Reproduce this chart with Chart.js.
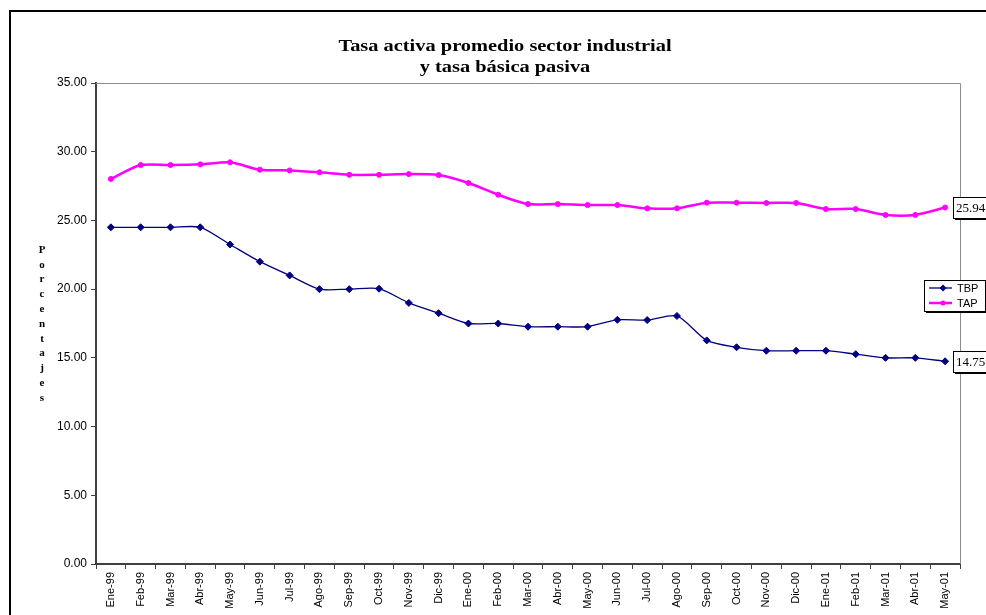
<!DOCTYPE html>
<html>
<head>
<meta charset="utf-8">
<script src="https://cdn.jsdelivr.net/npm/chart.js@4/dist/chart.umd.min.js"></script>
<style>
  html, body { margin: 0; padding: 0; background: #fff; }
  #wrap { width: 986px; height: 615px; }
</style>
</head>
<body>
<div id="wrap"><canvas id="c" width="986" height="615"></canvas></div>
<script>
// Monthly periods, Jan 1999 – May 2001
const categories = [
  'Ene-99','Feb-99','Mar-99','Abr-99','May-99','Jun-99','Jul-99','Ago-99','Sep-99','Oct-99','Nov-99','Dic-99',
  'Ene-00','Feb-00','Mar-00','Abr-00','May-00','Jun-00','Jul-00','Ago-00','Sep-00','Oct-00','Nov-00','Dic-00',
  'Ene-01','Feb-01','Mar-01','Abr-01','May-01'
];

// Tasa básica pasiva (%)
const tbp = [24.5, 24.5, 24.5, 24.5, 23.25, 22.0, 21.0, 20.0, 20.0, 20.03, 19.0, 18.25,
             17.5, 17.5, 17.27, 17.27, 17.27, 17.77, 17.75, 18.05, 16.27, 15.77, 15.52, 15.52,
             15.52, 15.27, 15.0, 15.0, 14.75];

// Tasa activa promedio sector industrial (%)
const tap = [28.02, 29.03, 29.03, 29.08, 29.23, 28.69, 28.64, 28.5, 28.32, 28.32, 28.37, 28.3,
             27.72, 26.87, 26.19, 26.19, 26.12, 26.12, 25.88, 25.88, 26.29, 26.29, 26.27, 26.27,
             25.83, 25.83, 25.4, 25.4, 25.94];

const yTicks = [0, 5, 10, 15, 20, 25, 30, 35];

const titleLines = ['Tasa activa promedio sector industrial', 'y tasa básica pasiva'];
const yTitle = 'Porcentajes';

const SANS = '"Liberation Sans", Arial, sans-serif';
const SERIF = '"Liberation Serif", "Times New Roman", serif';

const decorations = {
  id: 'decorations',
  beforeDatasetsDraw(chart) {
    const { ctx, chartArea: a } = chart;
    ctx.save();
    // plot area frame (top and right sides)
    ctx.strokeStyle = '#8c8c8c';
    ctx.lineWidth = 1;
    ctx.beginPath();
    ctx.moveTo(a.left, a.top + 0.5);
    ctx.lineTo(a.right + 0.5, a.top + 0.5);
    ctx.lineTo(a.right + 0.5, a.bottom);
    ctx.stroke();
    ctx.restore();
  },
  afterDraw(chart) {
    const { ctx } = chart;
    ctx.save();

    // outer frame
    ctx.strokeStyle = '#000';
    ctx.lineWidth = 2;
    ctx.beginPath();
    ctx.moveTo(10, 620);
    ctx.lineTo(10, 11);
    ctx.lineTo(1000, 11);
    ctx.stroke();

    // title (slightly widened serif, as in the original sheet)
    ctx.fillStyle = '#000';
    ctx.font = 'bold 17px ' + SERIF;
    ctx.textAlign = 'center';
    ctx.textBaseline = 'alphabetic';
    ctx.save();
    ctx.translate(505, 0);
    ctx.scale(1.2, 1);
    ctx.fillText(titleLines[0], 0, 51);
    ctx.fillText(titleLines[1], 0, 72);
    ctx.restore();

    // vertical stacked axis title
    ctx.font = 'bold 11px ' + SERIF;
    ctx.textBaseline = 'middle';
    const letters = yTitle.split('');
    const step = 14.8;
    const startY = 250;
    letters.forEach((ch, i) => ctx.fillText(ch, 42, startY + i * step));

    // value boxes at last point of each series
    const boxLabel = (dsIndex) => {
      const meta = chart.getDatasetMeta(dsIndex);
      const ds = chart.data.datasets[dsIndex];
      const last = ds.data.length - 1;
      const pt = meta.data[last];
      const txt = ds.data[last].toFixed(2);
      ctx.font = '13px ' + SERIF;
      const w = ctx.measureText(txt).width + 6;
      const h = 21;
      const x = 953, y = Math.round(pt.y - h / 2);
      ctx.fillStyle = '#000';
      ctx.fillRect(x + 2, y + 2, w, h);
      ctx.fillStyle = '#fff';
      ctx.fillRect(x, y, w, h);
      ctx.strokeStyle = '#000';
      ctx.lineWidth = 1;
      ctx.strokeRect(x + 0.5, y + 0.5, w, h);
      ctx.fillStyle = '#000';
      ctx.textAlign = 'left';
      ctx.textBaseline = 'middle';
      ctx.fillText(txt, x + 3, y + h / 2 + 1);
    };
    boxLabel(1);
    boxLabel(0);

    // legend
    const lx = 924, ly = 280, lw = 61, lh = 31;
    ctx.fillStyle = '#000';
    ctx.fillRect(lx + 2, ly + 2, lw, lh);
    ctx.fillStyle = '#fff';
    ctx.fillRect(lx, ly, lw, lh);
    ctx.strokeStyle = '#000';
    ctx.lineWidth = 1;
    ctx.strokeRect(lx + 0.5, ly + 0.5, lw, lh);
    chart.data.datasets.forEach((ds, i) => {
      const cy = ly + 8 + i * 15;
      ctx.strokeStyle = ds.borderColor;
      ctx.lineWidth = ds.borderWidth;
      ctx.beginPath();
      ctx.moveTo(lx + 5, cy);
      ctx.lineTo(lx + 28, cy);
      ctx.stroke();
      ctx.fillStyle = ds.pointBackgroundColor;
      ctx.beginPath();
      if (ds.pointStyle === 'rectRot') {
        const r = ds.pointRadius;
        ctx.moveTo(lx + 19, cy - r);
        ctx.lineTo(lx + 19 + r, cy);
        ctx.lineTo(lx + 19, cy + r);
        ctx.lineTo(lx + 19 - r, cy);
        ctx.closePath();
      } else {
        ctx.arc(lx + 19, cy, ds.pointRadius, 0, Math.PI * 2);
      }
      ctx.fill();
      ctx.fillStyle = '#000';
      ctx.font = '11px ' + SANS;
      ctx.textAlign = 'left';
      ctx.textBaseline = 'middle';
      ctx.fillText(ds.label, lx + 33, cy + 1);
    });

    ctx.restore();
  }
};

new Chart(document.getElementById('c'), {
  type: 'line',
  data: {
    labels: categories,
    datasets: [
      {
        label: 'TBP',
        data: tbp,
        borderColor: '#000080',
        backgroundColor: '#000080',
        pointBackgroundColor: '#000080',
        pointBorderColor: '#000080',
        borderWidth: 1.3,
        pointStyle: 'rectRot',
        pointRadius: 3.5,
        pointBorderWidth: 1,
        tension: 0.25,
        fill: false
      },
      {
        label: 'TAP',
        data: tap,
        borderColor: '#ff00ff',
        backgroundColor: '#ff00ff',
        pointBackgroundColor: '#ff00ff',
        pointBorderColor: '#ff00ff',
        borderWidth: 2.5,
        pointStyle: 'circle',
        pointRadius: 2.5,
        pointBorderWidth: 1,
        tension: 0.25,
        fill: false
      }
    ]
  },
  options: {
    responsive: false,
    animation: false,
    layout: { padding: { top: 83, left: 0, right: 26, bottom: 0 } },
    plugins: {
      legend: { display: false },
      title: { display: false },
      tooltip: { enabled: false }
    },
    scales: {
      x: {
        type: 'category',
        offset: true,
        afterFit(s) { s.height = 51; },
        grid: {
          offset: true,
          drawOnChartArea: false,
          drawTicks: true,
          tickLength: 5,
          color: '#404040'
        },
        border: { display: true, color: '#404040', width: 2 },
        ticks: {
          autoSkip: false,
          minRotation: 90,
          maxRotation: 90,
          padding: 3,
          color: '#000',
          font: { family: SANS, size: 11 }
        }
      },
      y: {
        min: 0,
        max: 35,
        afterFit(s) { s.width = 96; },
        afterBuildTicks(s) { s.ticks = yTicks.map(v => ({ value: v })); },
        grid: {
          drawOnChartArea: false,
          drawTicks: true,
          tickLength: 5,
          color: '#404040'
        },
        border: { display: true, color: '#404040', width: 2 },
        ticks: {
          padding: 4,
          color: '#000',
          font: { family: SANS, size: 12 },
          callback: v => Number(v).toFixed(2)
        }
      }
    }
  },
  plugins: [decorations]
});
</script>
</body>
</html>
